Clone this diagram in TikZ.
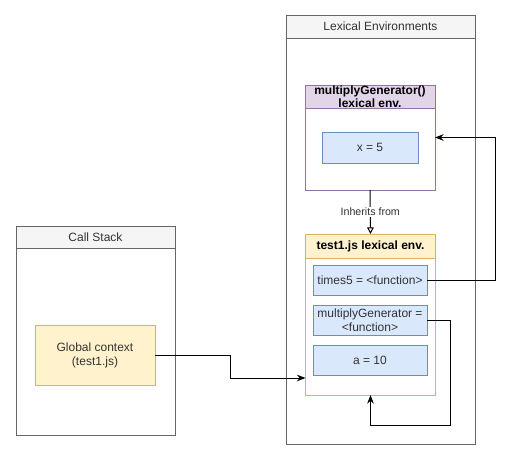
\documentclass[tikz,border=0pt]{standalone}
\usepackage{fontspec}
\setmainfont{Liberation Sans}
\usetikzlibrary{positioning,arrows.meta}

\definecolor{framegray}{HTML}{666666}
\definecolor{headgray}{HTML}{F5F5F5}
\definecolor{textgray}{HTML}{333333}
\definecolor{varfill}{HTML}{DAE8FC}
\definecolor{varline}{HTML}{6C8EBF}
\definecolor{ctxfill}{HTML}{FFF2CC}
\definecolor{ctxline}{HTML}{D6B656}
\definecolor{genfill}{HTML}{E1D5E7}
\definecolor{genline}{HTML}{9673A6}

\tikzset{
  frame/.style={draw=framegray, fill=white, line width=0.75pt, inner sep=0pt, outer sep=0pt},
  framehead/.style={draw=framegray, fill=headgray, text=textgray, line width=0.75pt, anchor=north, inner sep=0pt, outer sep=0pt},
  envbox/.style={draw=#1line, fill=white, line width=0.75pt, inner sep=0pt, outer sep=0pt, minimum width=97.5pt},
  envhead/.style={draw=#1line, fill=#1fill, line width=0.75pt, anchor=north, inner sep=0pt, outer sep=0pt, minimum width=97.5pt, align=center, font=\fontsize{9}{9.5}\selectfont\bfseries},
  var/.style={draw=varline, fill=varfill, text=textgray, line width=0.75pt, minimum width=85.5pt, minimum height=22.5pt, align=center, inner sep=1pt, outer sep=0pt, font=\fontsize{9}{10.5}\selectfont},
  link/.style={-{Stealth[length=6.5pt,width=5pt]}, line width=0.75pt},
}

\begin{document}
\begin{tikzpicture}[x=0.75pt, y=-0.75pt, font=\fontsize{9}{10.5}\selectfont]
  \useasboundingbox (0,0) rectangle (519,461);

  % Define nodes
  \node[frame, minimum width=141.75pt, minimum height=321.75pt] (lexenv) at (380.5,229.5) {};
  \node[framehead, minimum width=141.75pt, minimum height=17.25pt] (lexhead) at (lexenv.north) {Lexical Environments};

  \node[frame, minimum width=119.25pt, minimum height=156.75pt] (stack) at (95.5,330.5) {};
  \node[framehead, minimum width=119.25pt, minimum height=16.5pt] (stackhead) at (stack.north) {Call Stack};

  \node[draw=ctxline, fill=ctxfill, text=textgray, line width=0.75pt, minimum width=90pt, minimum height=45pt, align=center, outer sep=0pt] (global) at (95,355) {Global context\\(test1.js)};

  \node[envbox=gen, minimum height=78.75pt] (genenv) at (370,137.5) {};
  \node[envhead=gen, minimum height=17.25pt] (genhead) at (genenv.north) {multiplyGenerator()\\lexical env.};
  \node[var, minimum width=72pt, minimum height=23.25pt] (xval) at (370,147.5) {x = 5};

  \node[envbox=ctx, minimum height=120.75pt] (testenv) at (370.5,314.5) {};
  \node[envhead=ctx, minimum height=18pt] (testhead) at (testenv.north) {test1.js lexical env.};
  \node[var] (times) at (370,280) {times5 = <function>};
  \node[var, below=7.5pt of times] (genfunc) {multiplyGenerator =\\<function>};
  \node[var, below=7.5pt of genfunc] (aval) {a = 10};

  \coordinate (entry) at (testenv.west |- 0,378);

  % Connect the nodes
  \draw[line width=0.75pt, -{Triangle[open,length=5pt,width=5pt]}] (genenv.south) -- node[fill=white, text=textgray, font=\fontsize{8}{9}\selectfont, inner sep=1pt] {Inherits from} (testenv.north);
  \draw[link] (global.east) -- ++(75,0) |- (entry);
  \draw[link] (times.east) -- ++(68,0) |- (genenv.east);
  \draw[link] (genfunc.east) -- ++(23,0) -- ++(0,105) -| (testenv.south);

\end{tikzpicture}
\end{document}
